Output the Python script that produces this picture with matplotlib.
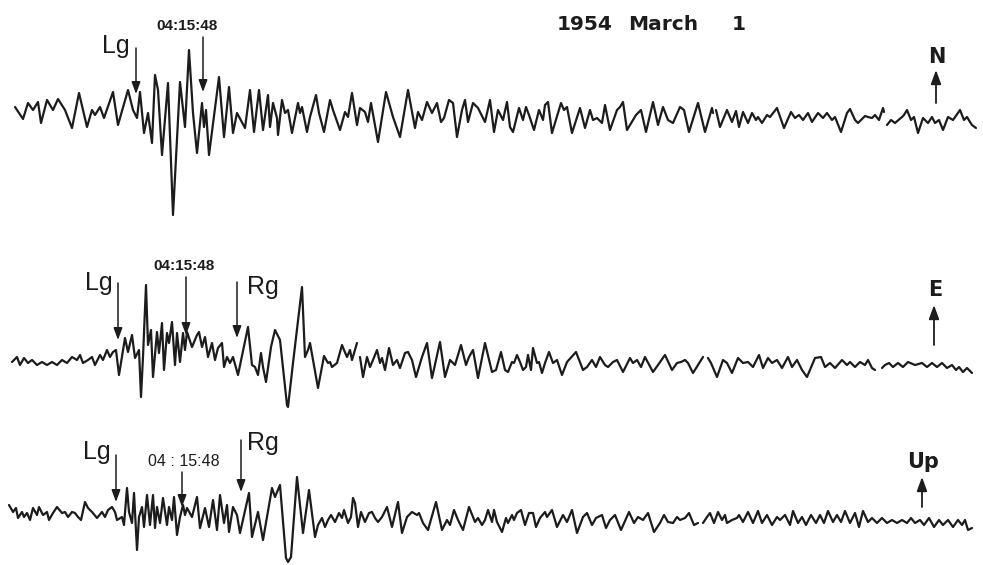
import numpy as np
import matplotlib
matplotlib.use("Agg")
import matplotlib.pyplot as plt

nan = float("nan")

# ---- N component: (time, amplitude) read from the record ----
n_t = [15, 23, 28, 33, 38, 41, 47, 53, 58, 65, 72, 79, 87, 92, 95, 100, 104, 113, 118, 128, 133, 137, 140, 144, 148, 152,
       155, 158, 162, 168, 173, 180, 185, 189, 193, 197, 202, 204, 206, 209, 219, 224, 229, 233, 237,
       245, 250, 254, 259, 263, 268, 270, 273, 277, 278, 282, 285, 288, 292, 298, 300, 302, 307, 310, 316, 319, 324, 330,
       333, 340, 345, 348, 352, 357, 360, 365, 368, 371, 378, 386, 393, 400, 408, 415, 418, 422, 427, 432, 437, 441, 444,
       449, 453, 457, 462, 465, 468, 473, 478, 485,
       490, 494, 498, 503, 507, 510, 513, 519, 523, 526, 529, 534, 539, 543, 545, 548, 552, 561, 564, 567, 572, 580, 585,
       590, 593, 597, 602, 605, 610, 617, 620, 623, 627, 633, 636, 641, 646, 653, 658, 663, 668, 673, 680, 684, 689, 698,
       705, 712, 713, 714, 716, 720, 727, 732,
       736, 739, 743, 748, 752, 756, 758, 762, 767, 770, 777, 784, 791, 795, 799, 803, 808, 812, 818, 823, 827, 832, 835,
       841, 847, 850, 855, 858, 865, 868, 872, 875, 879, 883, 884, 885, 887, 891, 895, 902, 904, 907, 911, 914, 918, 923,
       928, 932, 935, 939, 943, 948, 953, 960, 964, 967, 970, 972, 976]
n_a = [8, -4, 12, 5, 13, -8, 15, 5, 16, 5, -13, 22, -12, 5, 0, 8, -3, 23, -10, 25, 5, -3, 23, -18, 2, -28,
       40, 25, -40, 32, -100, 33, -12, 65, 2, -38, 12, -12, 5, -40, 38, -22, 28, -18, 2,
       -13, 25, -17, 25, -15, 20, -12, 12, -3, -20, 15, 2, 5, -18, 12, 2, 8, -17, -2, 20, 2, -17, 15,
       5, -15, 3, -2, 22, -10, 7, 3, -7, 12, -27, 23, -2, -22, 25, -13, 3, -5, 13, 2, 12, -7, -3,
       15, 12, -22, 5, 15, -7, 12, 7, -7,
       15, -17, 5, -5, 13, -12, -17, 7, -5, 8, 0, -15, 5, -5, 10, 13, -18, 12, 5, 8, -18, 7, -13,
       5, -5, -3, -8, 10, -15, 5, 8, 13, -15, -5, 0, 5, -17, 13, -10, 8, -5, -8, 8, 5, -17, 12,
       -17, 7, 2, nan, 5, -12, 5, -7,
       4, -12, 3, -8, 2, -5, -2, -8, 0, -2, 7, -13, 3, -3, 0, -5, 2, -7, 2, -3, 2, -5, -2,
       -17, 2, 6, -5, -8, -1, -2, -3, 0, -5, 7, 3, nan, -10, -5, -8, -2, 0, 5, -5, -2, -18, -3,
       -8, -2, -8, -5, -15, -2, -5, 5, -5, -2, -7, -10, -13]

# ---- E component ----
e_t = [12, 17, 20, 24, 28, 32, 37, 42, 47, 52, 57, 62, 67, 72, 77, 80, 83, 88, 92, 95, 100, 103, 107, 110, 113, 116,
       119, 125, 128, 132, 135, 139, 141, 143, 146, 148, 151, 153, 157, 159, 162, 164, 167, 169, 172, 175, 177, 180,
       183, 185, 187, 192, 197, 199, 202, 205, 208, 212, 215, 218, 222, 224, 227, 230, 233, 238,
       248, 252, 255, 258, 261, 263, 266, 271, 275, 280, 287, 288, 293, 302, 305, 308, 310, 313, 318, 324, 328, 330,
       332, 337, 342, 344, 347, 350, 352, 357, 358, 360, 363, 367, 370, 373, 377, 380, 382, 385, 389, 393, 397, 400,
       405, 408, 412, 416, 422, 427, 432, 440, 445, 450, 455, 461, 466, 469, 473, 478, 485,
       492, 496, 501, 505, 508, 512, 514, 517, 520, 523, 526, 528, 531, 533, 537, 539, 542, 545, 549, 553, 557, 562,
       567, 576, 583, 587, 592, 596, 600, 605, 608, 613, 617, 623, 630, 633, 637, 641, 645, 653, 658, 665, 672, 677,
       681, 685, 688, 693, 703, 705, 708, 711, 717, 723, 727, 732, 738,
       743, 748, 753, 759, 763, 768, 772, 777, 782, 788, 792, 797, 802, 807, 815, 821, 825, 830, 835, 842, 847, 850,
       855, 860, 865, 868, 872, 875, 878, 882, 885, 889, 893, 898, 903, 908, 915, 922, 927, 932, 937, 942, 947, 952,
       956, 959, 963, 967, 972]
e_a = [3, 8, 0, 7, 2, 5, 0, 3, 0, 3, 0, 5, 2, 8, 5, 10, 2, 5, 8, 0, 10, 5, 15, 8, 13, 15,
       -10, 27, 13, 30, 7, 15, -32, 8, 80, 20, 35, -12, 33, 12, 42, -5, 32, 22, 43, 0, 32, 3,
       32, 15, 33, 18, 30, 33, 18, 28, 8, 22, 5, 17, 22, -2, 8, 2, 8, -10,
       38, 0, -2, -10, 12, -2, -17, 18, 35, 25, -40, -42, 2, 78, 8, 15, 22, 5, -23, 9, 2, 3,
       -2, 2, 20, 15, 8, 15, 5, 22, nan, 8, -12, 8, -2, 5, 15, 2, 7, -5, 17, 0, 5, -3,
       12, 13, 5, -12, 8, 22, -13, 23, -12, 5, 0, 20, 0, 8, 15, -13, 22,
       -7, -5, 13, -5, -7, 3, 2, 10, 3, -5, -2, 10, -5, 17, 2, 3, -8, 2, 13, 2, 5, -10,
       3, 13, -5, -2, 5, -2, 8, 0, -2, 3, 5, -7, 7, 2, 5, -2, 8, -7, 0, 10, -5, 2,
       3, 5, 2, -8, 8, nan, 7, 2, -12, 5, 2, -8, 7,
       2, 3, -2, 10, -3, 7, 2, 5, -3, 8, -2, 5, -5, -12, 7, 8, -2, 2, -3, 5, 0, 3,
       -2, 3, 0, 5, -3, -5, nan, -3, 0, 2, -2, 2, -2, 3, 0, 2, -2, 2, -2, 2, -3, 0,
       -5, -2, -7, -3, -8]

# ---- Up component ----
z_t = [9, 13, 16, 18, 22, 24, 27, 30, 33, 37, 39, 43, 47, 49, 53, 57, 62, 65, 68, 72, 75, 78, 81, 85, 88, 92, 97,
       102, 105, 108, 112, 115, 117, 122, 124, 127, 129, 132, 134, 137, 139, 142, 144, 147, 150, 153, 155, 157, 160,
       163, 167, 169, 172, 174, 177, 180, 183, 185, 187, 192, 197, 200, 205, 209, 213, 217, 220, 224, 227, 229, 233,
       237, 240, 249,
       252, 258, 263, 272, 275, 280, 286, 288, 291, 297, 303, 309, 315, 318, 322, 325, 328, 331, 335, 339, 342, 344,
       348, 351, 353, 355, 358, 361, 365, 369, 372, 375, 378, 382, 387, 392, 398, 402, 407, 412, 417, 419, 423, 428,
       436, 442, 447, 450, 454, 458, 463, 469, 475, 478, 482, 485, 488, 492, 494,
       497, 502, 506, 508, 512, 514, 517, 521, 525, 529, 533, 536, 540, 545, 547, 552, 557, 563, 567, 572, 577, 583,
       587, 592, 596, 602, 606, 610, 615, 621, 629, 634, 638, 643, 648, 654, 660, 664, 668, 673, 677, 680, 685, 689,
       694, 698, 700, 703, 707, 710, 714, 718, 722, 725, 727, 732, 737,
       739, 743, 748, 753, 758, 762, 767, 772, 777, 780, 785, 790, 793, 798, 802, 806, 811, 816, 820, 824, 828, 833,
       837, 841, 845, 850, 855, 859, 863, 868, 872, 877, 882, 887, 892, 897, 902, 907, 911, 915, 920, 924, 929, 934,
       939, 943, 948, 953, 958, 962, 965, 968, 972]
z_a = [15, 8, 12, 2, 8, 3, 7, 0, 12, 5, 13, 5, 8, 0, 7, 13, 7, 8, 3, 8, 7, 3, 0, 18, 12, 8, 2,
       8, 3, 10, 13, 8, 0, 3, -5, 32, 8, -3, 27, -30, 3, 13, -7, 25, -5, 25, -8, 13, -3,
       22, -5, 13, 0, 23, -15, 3, 15, 5, 12, 3, 23, -8, 12, -7, 20, -10, 25, -3, 15, -12, 13,
       5, -13, 27,
       -17, 8, -20, 32, 23, 35, -38, -42, -37, 43, -13, 30, -17, -5, 2, -7, 0, 5, -2, 7, 2, 10,
       -3, 3, 22, 17, -7, 8, -2, 7, 8, 2, -2, 3, 13, -7, 18, -13, 3, 8, 5, 7, -3, -10,
       18, -10, 0, -5, 10, 0, -10, 13, -2, 2, -5, 0, 10, -2, 10,
       -2, -12, 2, -3, 5, 0, 7, 10, -5, 7, 7, -7, 2, 8, 3, 10, -7, 5, -2, 10, -13, 3,
       7, -5, 2, 5, -8, 0, 5, -10, 8, -3, 3, 0, 7, -12, -3, 5, -2, -3, 3, 0, 2, 7,
       -5, -3, nan, -3, 3, 7, -3, 8, 0, 5, -3, 0, 2,
       5, -2, 8, -3, 9, -3, 5, -5, 3, 0, 5, -5, 9, -3, 3, -5, 5, -3, 5, -3, 9, -2,
       5, -2, 9, -3, 7, -7, 9, -2, 2, -3, 2, -3, 0, -3, 0, -3, 2, -3, 0, -5, 2, -7,
       0, -5, 0, -7, 0, -5, 0, -10, -8]

# ---- layout (figure pixel coordinates) ----
W, H = 983, 565
base_n, base_e, base_z = 115, 365, 520
ink = "#1c1c1c"

fig = plt.figure(figsize=(W / 100, H / 100), dpi=100)
ax = fig.add_axes([0, 0, 1, 1])
ax.set_xlim(0, W)
ax.set_ylim(H, 0)
ax.axis("off")

for t, a, b in ((n_t, n_a, base_n), (e_t, e_a, base_e), (z_t, z_a, base_z)):
    t = np.asarray(t, float)
    a = np.asarray(a, float)
    ax.plot(t, b - a, color=ink, lw=1.6, solid_joinstyle="round", solid_capstyle="round")

lab = dict(family=["Liberation Sans", "DejaVu Sans"], color=ink)
bold_lab = dict(family=["DejaVu Sans"], color=ink, fontweight="bold")


def arrow(x, y0, y1, big=False):
    ms = 14 if big else 12
    ax.annotate("", xy=(x, y1), xytext=(x, y0),
                arrowprops=dict(arrowstyle="-|>,head_length=0.6,head_width=0.22",
                                lw=1.3 if big else 1.1, color=ink, shrinkA=0, shrinkB=0,
                                mutation_scale=ms))


# title
ax.text(557, 24, "1954", fontsize=14.5, ha="left", va="center", **bold_lab)
ax.text(628, 24, "March", fontsize=14.5, ha="left", va="center", **bold_lab)
ax.text(732, 24, "1", fontsize=14.5, ha="left", va="center", **bold_lab)

# N trace
ax.text(102, 46, "Lg", fontsize=18, ha="left", va="center", **lab)
arrow(136, 48, 94)
ax.text(187, 26, "04:15:48", fontsize=11, fontweight="bold", ha="center", va="center", **lab)
arrow(203, 37, 92)
ax.text(937, 57, "N", fontsize=15, ha="center", va="center", **bold_lab)
arrow(936, 103, 70, big=True)

# E trace
ax.text(85, 283, "Lg", fontsize=18, ha="left", va="center", **lab)
arrow(118, 283, 340)
ax.text(184, 266, "04:15:48", fontsize=11, fontweight="bold", ha="center", va="center", **lab)
arrow(186, 277, 335)
ax.text(247, 287, "Rg", fontsize=18, ha="left", va="center", **lab)
arrow(237, 282, 338)
ax.text(935, 290, "E", fontsize=15, ha="center", va="center", **bold_lab)
arrow(934, 345, 305, big=True)

# Up trace
ax.text(83, 452, "Lg", fontsize=18, ha="left", va="center", **lab)
arrow(116, 455, 502)
ax.text(184, 462, "04 : 15:48", fontsize=11.5, ha="center", va="center", **lab)
arrow(182, 472, 507)
ax.text(247, 443, "Rg", fontsize=18, ha="left", va="center", **lab)
arrow(241, 440, 492)
ax.text(923, 462, "Up", fontsize=15, ha="center", va="center", **bold_lab)
arrow(922, 507, 477, big=True)

fig.savefig("out.png", dpi=100, facecolor="white")
